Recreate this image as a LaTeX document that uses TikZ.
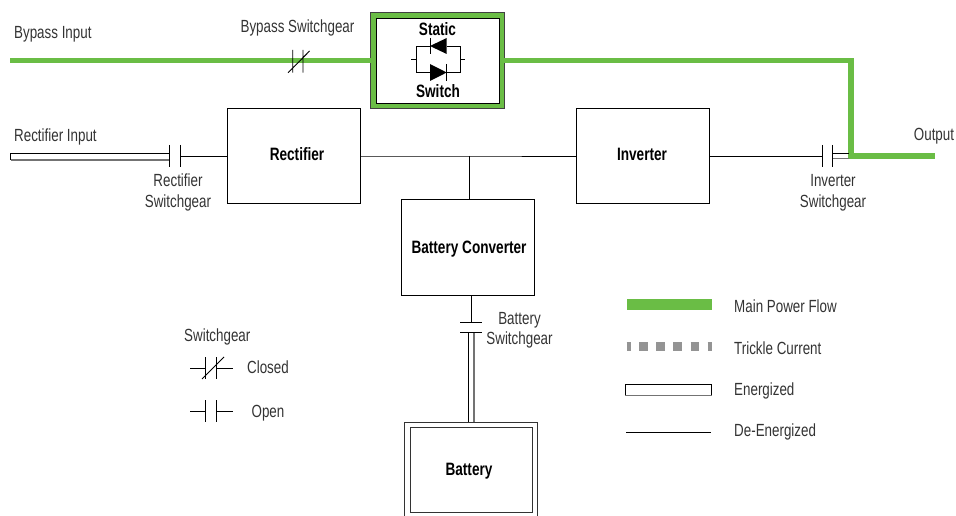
\documentclass[tikz,border=0pt]{standalone}
\usepackage{fontspec}
\setmainfont{Liberation Sans}[FakeStretch=0.76]
\usetikzlibrary{arrows.meta, positioning, calc}
\definecolor{mGreen}{HTML}{6ABD45}
\definecolor{mGrey}{HTML}{949494}
\definecolor{mText}{HTML}{333333}
\tikzset{
  unitbox/.style={draw=black, line width=0.9pt, fill=white, minimum width=133pt, minimum height=96pt, outer sep=0pt, inner sep=0pt},
  boldlbl/.style={font=\fontsize{17.9}{19}\selectfont\bfseries, text=black, inner sep=0pt},
  lbl/.style={font=\fontsize{17.6}{20.5}\selectfont, text=mText, inner sep=0pt, align=center},
  wire/.style={draw=black, line width=0.9pt},
  gearbar/.style={draw=black, line width=0.9pt},
  powerflow/.style={draw=mGreen, line width=5.5pt},
  energized/.style={draw=black, line width=1pt, fill=white},
  greyedge/.style={draw=black!55, line width=1.2pt},
}
\begin{document}
\begin{tikzpicture}[x=1pt, y=-1pt]
    \useasboundingbox (0,0) rectangle (956,516);
    % blocks
    \node[unitbox, minimum height=95pt] (rectifier) at (293.5,156) {};
    \node[unitbox, minimum height=95pt] (inverter) at (642.5,156) {};
    \node[unitbox] (converter) at (467.5,247) {};
    \node[boldlbl] (rectifier label) at (297,154) {Rectifier};
    \node[boldlbl] (inverter label) at (642,154) {Inverter};
    \node[boldlbl] (converter label) at (469,249) {Battery Converter};

    % free ends and switchgear points
    \coordinate (bypass in) at (10,60.5);
    \coordinate (rect in) at (10,154);
    \coordinate (output) at (935,156);
    \coordinate (corner) at (851,60.5);
    \coordinate (bus) at (469,156);
    \coordinate (rect gear a) at (169.5,156);
    \coordinate (rect gear b) at (180,156);
    \coordinate (inv gear a) at (822.5,156);
    \coordinate (inv gear b) at (832.5,156);
    \coordinate (bat gear a) at (471,322);
    \coordinate (bat gear b) at (471,332);
    \coordinate (bat top) at (471,422);

    % static switch
    \node[draw=black!75, line width=0.9pt, fill=mGreen, minimum width=133.5pt, minimum height=95.5pt, outer sep=0pt, inner sep=0pt] (static) at (437.5,60.5) {};
    \node[draw=black, line width=0.9pt, fill=white, minimum width=123pt, minimum height=85pt, inner sep=0pt] (static inner) at (437.5,60.5) {};
    \node[boldlbl] (static top) at (437.5,29.5) {Static};
    \node[boldlbl] (static bottom) at (438,91) {Switch};
    \draw[wire] (411,59.3) -- (416,59.3) (460,59.3) -- (465,59.3);
    \draw[wire] (430,46) -- (416,46) -- (416,72.7) -- (430,72.7);
    \draw[wire] (447,46) -- (460,46) -- (460,72.7) -- (447,72.7);
    \fill[black] (430,46) -- (446.7,38) -- (446.7,54) -- cycle;
    \draw[wire] (430,38) -- (430,54);
    \fill[black] (430,64) -- (430,81) -- (446.7,72.5) -- cycle;
    \draw[wire] (446.7,64) -- (446.7,81);

    % power paths
    \draw[powerflow] (bypass in) -- (static.west);
    \draw[powerflow] (static.east) -- (corner) -- (corner |- output) -- (output);
    \draw[energized] (rect in) rectangle ($(rect gear a)+(0,4)$);
    \draw[greyedge] ($(rect in)+(0.5,6)$) -- ($(rect gear a)+(0,4)$);
    \draw[wire] (rect gear b) -- (rectifier.west);
    \draw[wire] (rectifier.east |- bus) -- (bus) -- (inverter.west |- bus);
    \draw[wire] (bus) -- (bus |- converter.north);
    \draw[wire] (inverter.east |- inv gear a) -- (inv gear a);
    \draw[draw=black, line width=0.9pt] (inv gear b) ++(0,-2.8) -- ++(16,0);
    \draw[greyedge] (inv gear b) ++(0,2.2) -- ++(16,0);
    \draw[wire] (converter.south -| bat gear a) -- (bat gear a);
    \draw[energized] ($(bat gear b)+(-2.7,0)$) rectangle ($(bat top)+(3,0)$);
    \draw[greyedge] ($(bat gear b)+(3,0)$) -- ($(bat top)+(3,0)$);

    % switchgear bars
    \draw[gearbar] (292.7,50) -- (292.7,72.7) (303,50) -- (303,72.7) (288,72.7) -- (309.6,51);
    \draw[gearbar] (rect gear a) ++(0,-11) -- ++(0,22);
    \draw[gearbar] (rect gear b) ++(0,-11) -- ++(0,22);
    \draw[gearbar] (inv gear a) ++(0,-11) -- ++(0,22);
    \draw[gearbar] (inv gear b) ++(0,-11) -- ++(0,22);
    \draw[gearbar] (460,322) -- (481.7,322) (460,332) -- (481.7,332);

    % battery
    \draw[draw=black!80, line width=1pt] (404.7,516) -- (404.7,422) -- (537,422) -- (537,516);
    \node[draw=black!80, line width=1pt, fill=white, minimum width=122pt, minimum height=85pt, inner sep=0pt] (battery) at (471,469.5) {};
    \node[boldlbl] (battery label) at (469,471) {Battery};

    % labels
    \node[lbl, anchor=west] (bypass label) at (14,34) {Bypass Input};
    \node[lbl] (bypass gear label) at (297.5,28) {Bypass Switchgear};
    \node[lbl, anchor=west] (rect label) at (14,137) {Rectifier Input};
    \node[lbl] (rect gear label) at (178,192.5) {Rectifier\\Switchgear};
    \node[lbl] (inv gear label) at (833,193) {Inverter\\Switchgear};
    \node[lbl] (output label) at (934,136.5) {Output};
    \node[lbl] (bat gear label) at (519.5,330.5) {Battery\\Switchgear};

    % switchgear key
    \node[lbl, anchor=west] (key title) at (184,337) {Switchgear};
    \node[lbl] (key closed) at (268,367.5) {Closed};
    \node[lbl] (key open) at (268,413) {Open};
    \coordinate (closed l) at (190,368);
    \coordinate (closed r) at (232.7,368);
    \coordinate (open l) at (190,411);
    \coordinate (open r) at (232.7,411);
    \draw[wire] (closed l) -- (205.7,368) (216,368) -- (closed r);
    \draw[wire] (open l) -- (205.7,411) (216,411) -- (open r);
    \foreach \xg in {205.7,216} {
      \draw[gearbar] (\xg,357) -- (\xg,379);
      \draw[gearbar] (\xg,400) -- (\xg,422);
    }
    \draw[gearbar] (202,379) -- (224,357);

    % flow key
    \coordinate (flow l) at (627,304.5);
    \coordinate (flow r) at (712,304.5);
    \coordinate (trickle l) at (626.5,346.5);
    \coordinate (trickle r) at (712,346.5);
    \coordinate (de l) at (626,432.7);
    \coordinate (de r) at (711,432.7);
    \draw[draw=mGreen, line width=11pt] (flow l) -- (flow r);
    \draw[draw=mGrey, line width=9.5pt, dash pattern=on 8.5pt off 8.6pt, dash phase=4.4pt] (trickle l) -- (trickle r);
    \node[draw=black, line width=0.9pt, fill=white, minimum width=86pt, minimum height=10.5pt, inner sep=0pt] (energized key) at (668.5,389.7) {};
    \draw[greyedge] (energized key.south west) -- (energized key.south east);
    \draw[wire] (de l) -- (de r);
    \node[lbl, anchor=west] (flow label) at (734,306) {Main Power Flow};
    \node[lbl, anchor=west] (trickle label) at (734,348) {Trickle Current};
    \node[lbl, anchor=west] (energized label) at (734,390.5) {Energized};
    \node[lbl, anchor=west] (de label) at (734,432) {De-Energized};
  \end{tikzpicture}
\end{document}
